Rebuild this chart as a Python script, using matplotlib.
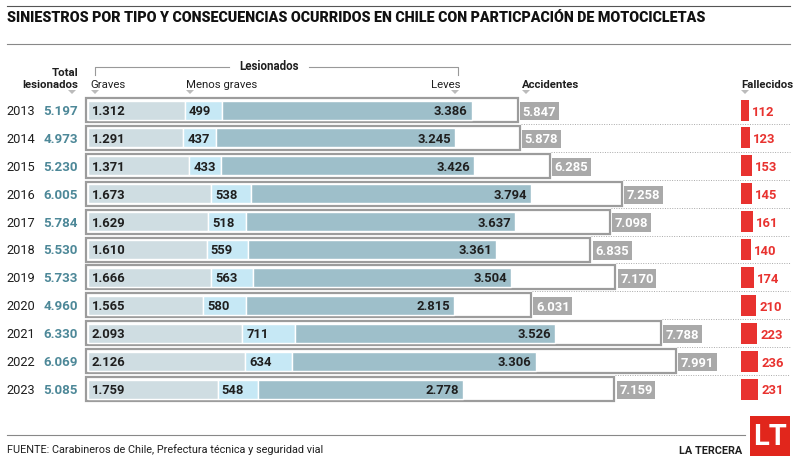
import matplotlib
matplotlib.use("Agg")
import matplotlib.pyplot as plt
from matplotlib.patches import Rectangle, Polygon

plt.rcParams['font.family'] = ['Roboto', 'DejaVu Sans']

years = [2013, 2014, 2015, 2016, 2017, 2018, 2019, 2020, 2021, 2022, 2023]
total_les = [5197, 4973, 5230, 6005, 5784, 5530, 5733, 4960, 6330, 6069, 5085]
graves = [1312, 1291, 1371, 1673, 1629, 1610, 1666, 1565, 2093, 2126, 1759]
menos_graves = [499, 437, 433, 538, 518, 559, 563, 580, 711, 634, 548]
leves = [3386, 3245, 3426, 3794, 3637, 3361, 3504, 2815, 3526, 3306, 2778]
accidentes = [5847, 5878, 6285, 7258, 7098, 6835, 7170, 6031, 7788, 7991, 7159]
fallecidos = [112, 123, 153, 145, 161, 140, 174, 210, 223, 236, 231]

def fmt(v):
    return f"{v:,}".replace(",", ".")

S = 0.0738      # px per unit
X0 = 86         # px where 0 sits
def P(px):
    return (px - X0) / S

c_grav = '#cfdde2'
c_menos = '#c6e8f5'
c_leves = '#9ebfca'
c_edge = '#9c9c9c'
c_acc = '#a9a9a9'
c_red = '#e8322f'
c_teal = '#4d8898'
c_txt = '#1f1f1f'

fig = plt.figure(figsize=(8, 4.64), dpi=100)
ax = fig.add_axes([0, 0, 1, 1])
ax.set_xlim(P(0), P(800))
ax.set_ylim(464, 0)
ax.axis('off')

# header
ax.plot([P(7), P(790)], [7, 7], color='#555555', lw=0.8)
ax.plot([P(7), P(790)], [45, 45], color='#888888', lw=0.8)
ax.text(P(7), 18, "SINIESTROS POR TIPO Y CONSECUENCIAS OCURRIDOS EN CHILE CON PARTICPACIÓN DE MOTOCICLETAS",
        fontsize=10.3, fontweight='black', color='#111111', va='center', ha='left')

# lesionados bracket
ax.plot([P(95), P(95), P(229)], [76, 68, 68], color='#999999', lw=0.8)
ax.plot([P(309), P(458), P(458)], [68, 68, 76], color='#999999', lw=0.8)
ax.text(P(269), 67, "Lesionados", fontsize=8.3, fontweight='bold', color=c_txt, ha='center', va='center')

ax.text(P(78), 73, "Total", fontsize=8.2, fontweight='bold', color=c_txt, ha='right', va='center')
ax.text(P(78), 85, "lesionados", fontsize=8.2, fontweight='bold', color=c_txt, ha='right', va='center')
ax.text(P(90), 85, "Graves", fontsize=8.2, color=c_txt, ha='left', va='center')
ax.text(P(186), 85, "Menos graves", fontsize=8.2, color=c_txt, ha='left', va='center')
ax.text(P(461), 85, "Leves", fontsize=8.2, color=c_txt, ha='right', va='center')
ax.text(P(522), 85, "Accidentes", fontsize=8.2, fontweight='bold', color=c_txt, ha='left', va='center')
ax.text(P(741), 85, "Fallecidos", fontsize=8.2, fontweight='bold', color=c_txt, ha='left', va='center')
for tx in [72, 95, 190, 455, 526, 745]:
    ax.add_patch(Polygon([(P(tx - 4), 91), (P(tx + 4), 91), (P(tx), 95)],
                         closed=True, color='#bbbbbb', lw=0))

# rows
y0, dy = 111, 27.9
rows = [y0 + i * dy for i in range(len(years))]
pad = 2 / S
for i, y in enumerate(rows):
    # separator
    if i > 0:
        ax.plot([P(X0 + accidentes[i] * S + 1), P(790)], [y - dy / 2, y - dy / 2],
                color='#aaaaaa', lw=0.7, ls=(0, (1, 1.5)))
    ax.add_patch(Rectangle((0, y - 12), accidentes[i], 24, facecolor='white',
                           edgecolor=c_edge, lw=1.6, zorder=2))
    lefts = [pad, pad + graves[i], pad + graves[i] + menos_graves[i]]
    vals = [graves[i], menos_graves[i], leves[i]]
    cols = [c_grav, c_menos, c_leves]
    ax.barh([y] * 3, vals, left=lefts, height=19, color=cols,
            edgecolor='white', lw=1.0, zorder=3)
    ax.text(lefts[0] + 4 / S, y + 0.5, fmt(graves[i]), fontsize=9.4, fontweight='bold',
            color=c_txt, ha='left', va='center', zorder=4)
    ax.text(lefts[1] + 4 / S, y + 0.5, fmt(menos_graves[i]), fontsize=9.4, fontweight='bold',
            color=c_txt, ha='left', va='center', zorder=4)
    ax.text(lefts[2] + leves[i] - 4 / S, y + 0.5, fmt(leves[i]), fontsize=9.4, fontweight='bold',
            color=c_txt, ha='right', va='center', zorder=4)
    # accidentes label
    ax.text(accidentes[i] + 5 / S, y + 1, fmt(accidentes[i]), fontsize=9.4, fontweight='bold',
            color='white', ha='left', va='center', zorder=4,
            bbox=dict(boxstyle='square,pad=0.2', facecolor=c_acc, edgecolor='none'))
    # year and total
    ax.text(P(6), y + 0.5, str(years[i]), fontsize=9.2, color=c_txt, ha='left', va='center')
    ax.text(P(78), y + 0.5, fmt(total_les[i]), fontsize=9.6, fontweight='bold', color=c_teal,
            ha='right', va='center')
    # fallecidos
    ax.barh(y, fallecidos[i], left=P(741), height=21, color=c_red, lw=0, zorder=3)
    ax.text(P(741) + fallecidos[i] + 3 / S, y + 1, str(fallecidos[i]), fontsize=9.4,
            fontweight='bold', color=c_red, ha='left', va='center')

# footer
ax.plot([P(7), P(745)], [436, 436], color='#888888', lw=0.8)
ax.text(P(7), 450, "FUENTE: Carabineros de Chile, Prefectura técnica y seguridad vial",
        fontsize=7.8, color=c_txt, ha='left', va='center')
ax.text(P(742), 451, "LA TERCERA", fontsize=7.8, fontweight='bold', color=c_txt,
        ha='right', va='center')
ax.add_patch(Rectangle((P(750), 417), P(790) - P(750), 40, facecolor='#e1261c', edgecolor='none'))
ax.text(P(770), 437, "LT", fontsize=21, fontweight='bold', color='white', ha='center', va='center')

fig.savefig("out.png", dpi=100)
